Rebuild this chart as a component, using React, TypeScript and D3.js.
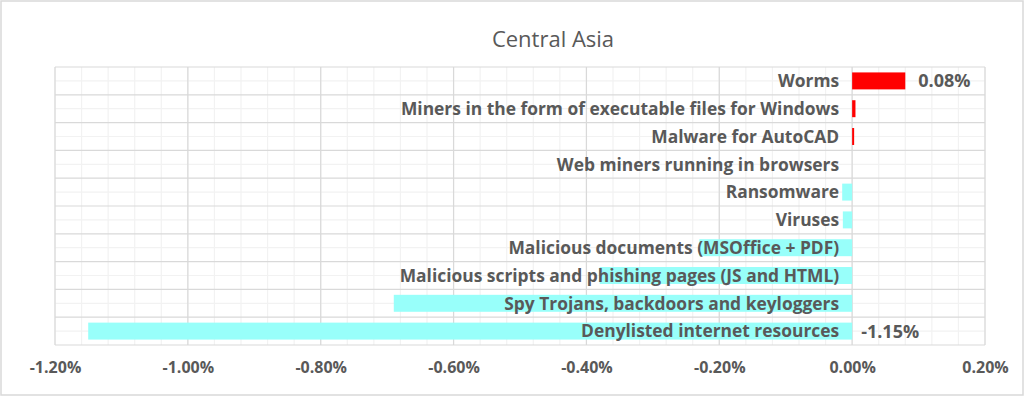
import { useEffect, useRef } from 'react';
import * as d3 from 'd3';

// Categories top to bottom, with the change in share (percent points).
const categories = [
  'Worms',
  'Miners in the form of executable files for Windows',
  'Malware for AutoCAD',
  'Web miners running in browsers',
  'Ransomware',
  'Viruses',
  'Malicious documents (MSOffice + PDF)',
  'Malicious scripts and phishing pages (JS and HTML)',
  'Spy Trojans, backdoors and keyloggers',
  'Denylisted internet resources',
];
const values = [0.0008, 0.00005, 0.00003, 0, -0.00015, -0.00014, -0.0023, -0.0038, -0.0069, -0.0115];
const labelled = ['Worms', 'Denylisted internet resources'];
const xTicks = [-0.012, -0.01, -0.008, -0.006, -0.004, -0.002, 0, 0.002];

const FONT = "'Open Sans', sans-serif";
const GREY = '#595959';
const pct = (v: number) => d3.format('.2%')(v).replace('\u2212', '-');

export default function App() {
  const ref = useRef<SVGSVGElement | null>(null);

  useEffect(() => {
    const width = 1025;
    const height = 397;
    const svg = d3.select(ref.current);
    svg.selectAll('*').remove();
    svg.attr('width', width).attr('height', height).attr('viewBox', `0 0 ${width} ${height}`);

    const left = 55;
    const right = 985;
    const top = 67;
    const bottom = 345;

    const x = d3.scaleLinear().domain([-0.012, 0.002]).range([left, right]);
    const y = d3.scaleBand<string>().domain(categories).range([top, bottom]).paddingInner(0.39).paddingOuter(0.195);

    svg.append('rect').attr('width', width).attr('height', height).attr('fill', '#fff');
    svg
      .append('rect')
      .attr('x', 1)
      .attr('y', 1)
      .attr('width', width - 3)
      .attr('height', height - 3)
      .attr('fill', 'none')
      .attr('stroke', '#d9d9d9')
      .attr('stroke-width', 1.5);

    const g = svg.append('g');

    // minor vertical grid every 0.04%
    const minor = d3.range(-0.012, 0.0020001, 0.0004);
    g.selectAll('line.vmin')
      .data(minor)
      .join('line')
      .attr('x1', (d) => x(d))
      .attr('x2', (d) => x(d))
      .attr('y1', top)
      .attr('y2', bottom)
      .attr('stroke', '#f2f2f2')
      .attr('stroke-width', 1.2);

    // minor horizontal grid at band centres
    const step = (bottom - top) / categories.length;
    g.selectAll('line.hmin')
      .data(categories)
      .join('line')
      .attr('x1', left)
      .attr('x2', right)
      .attr('y1', (_, i) => top + step * (i + 0.5))
      .attr('y2', (_, i) => top + step * (i + 0.5))
      .attr('stroke', '#f2f2f2')
      .attr('stroke-width', 1.2);

    // major horizontal grid at band edges
    g.selectAll('line.hmaj')
      .data(d3.range(categories.length + 1))
      .join('line')
      .attr('x1', left)
      .attr('x2', right)
      .attr('y1', (i) => top + step * i)
      .attr('y2', (i) => top + step * i)
      .attr('stroke', '#d9d9d9')
      .attr('stroke-width', 1.2);

    // major vertical grid
    g.selectAll('line.vmaj')
      .data(xTicks)
      .join('line')
      .attr('x1', (d) => x(d))
      .attr('x2', (d) => x(d))
      .attr('y1', top)
      .attr('y2', bottom)
      .attr('stroke', '#d9d9d9')
      .attr('stroke-width', 1.2);

    const data = categories.map((c, i) => ({ c, v: values[i] }));

    g.selectAll('rect.bar')
      .data(data)
      .join('rect')
      .attr('x', (d) => x(Math.min(0, d.v)))
      .attr('y', (d) => y(d.c) ?? 0)
      .attr('width', (d) => Math.abs(x(d.v) - x(0)))
      .attr('height', y.bandwidth())
      .attr('fill', (d) => (d.v >= 0 ? '#ff0000' : '#98fffa'));

    // category labels, right-aligned just left of zero
    g.selectAll('text.cat')
      .data(data)
      .join('text')
      .attr('x', x(0) - 13)
      .attr('y', (d) => (y(d.c) ?? 0) + y.bandwidth() / 2)
      .attr('dy', '0.36em')
      .attr('text-anchor', 'end')
      .attr('font-family', FONT)
      .attr('font-weight', 'bold')
      .attr('font-size', 17.4)
      .attr('fill', GREY)
      .text((d) => d.c);

    // value labels
    g.selectAll('text.val')
      .data(data.filter((d) => labelled.includes(d.c)))
      .join('text')
      .attr('x', (d) => (d.v >= 0 ? x(d.v) + 13 : x(0) + 9))
      .attr('y', (d) => (y(d.c) ?? 0) + y.bandwidth() / 2)
      .attr('dy', '0.36em')
      .attr('font-family', FONT)
      .attr('font-weight', 'bold')
      .attr('font-size', 18)
      .attr('fill', GREY)
      .text((d) => pct(d.v));

    // x axis labels
    const axis = d3
      .axisBottom(x)
      .tickValues(xTicks)
      .tickSize(0)
      .tickPadding(17)
      .tickFormat((d) => pct(d as number));
    svg
      .append('g')
      .attr('transform', `translate(0,${bottom})`)
      .call(axis)
      .call((s) => s.select('.domain').remove())
      .selectAll('text')
      .attr('font-family', FONT)
      .attr('font-weight', 'bold')
      .attr('font-size', 16)
      .attr('fill', GREY);

    svg
      .append('text')
      .attr('x', 553)
      .attr('y', 47)
      .attr('text-anchor', 'middle')
      .attr('font-family', FONT)
      .attr('font-size', 22)
      .attr('fill', GREY)
      .text('Central Asia');
  }, []);

  return (
    <div style={{ position: 'fixed', left: 0, top: 0 }}>
      <svg ref={ref} style={{ display: 'block' }} />
    </div>
  );
}
